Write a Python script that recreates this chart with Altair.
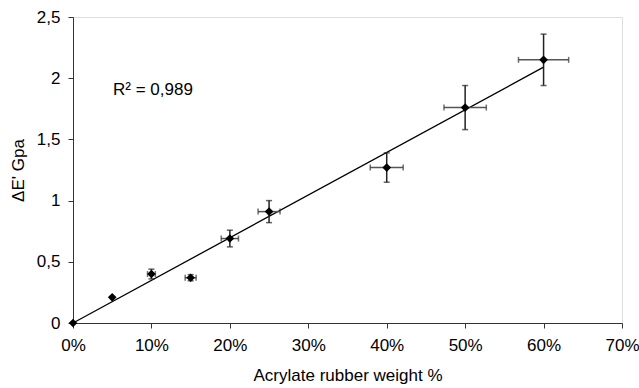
import altair as alt
import pandas as pd

# Data
rubber_pct = [0, 5, 10, 15, 20, 25, 40, 50, 60]
delta_e = [0.0, 0.21, 0.40, 0.37, 0.69, 0.91, 1.27, 1.76, 2.15]
y_err = [0.0, 0.0, 0.04, 0.025, 0.068, 0.09, 0.12, 0.18, 0.21]
x_err = [0.0, 0.0, 0.5, 0.7, 1.1, 1.4, 2.1, 2.7, 3.2]

fit_x = [0, 60]
fit_y = [0.0, 2.09]

r2_text = ["R² = 0,989"]
r2_x = [5.1]
r2_y = [1.9]

df = pd.DataFrame({
    "x": rubber_pct,
    "y": delta_e,
    "ylo": [a - b for a, b in zip(delta_e, y_err)],
    "yhi": [a + b for a, b in zip(delta_e, y_err)],
    "xlo": [a - b for a, b in zip(rubber_pct, x_err)],
    "xhi": [a + b for a, b in zip(rubber_pct, x_err)],
})
err_df = df[df["x"] >= 10]
fit_df = pd.DataFrame({"x": fit_x, "y": fit_y})
txt_df = pd.DataFrame({"x": r2_x, "y": r2_y, "t": r2_text})

FONT = "Liberation Sans"
FS = 17

xscale = alt.Scale(domain=[0, 70], nice=False)
yscale = alt.Scale(domain=[0, 2.5], nice=False)

xaxis = alt.Axis(
    values=[0, 10, 20, 30, 40, 50, 60, 70],
    labelExpr="datum.value + '%'",
    title="Acrylate rubber weight %",
    grid=False, tickSize=5, labelPadding=9, titlePadding=14,
    labelFlush=False, labelOverlap=False,
    labelFontSize=FS, titleFontSize=FS, labelFont=FONT, titleFont=FONT,
    titleFontWeight="normal", labelColor="black", titleColor="black",
    domainColor="#333", tickColor="#333",
)
yaxis = alt.Axis(
    values=[0, 0.5, 1, 1.5, 2, 2.5],
    labelExpr="replace(format(datum.value, ''), '.', ',')",
    title="ΔE' Gpa",
    grid=False, tickSize=5, labelPadding=8, titlePadding=9,
    labelFlush=False, labelOverlap=False,
    labelFontSize=FS, titleFontSize=FS, labelFont=FONT, titleFont=FONT,
    titleFontWeight="normal", labelColor="black", titleColor="black",
    domainColor="#333", tickColor="#333",
)

base = alt.Chart(df)

fit = alt.Chart(fit_df).mark_line(color="black", strokeWidth=1.3).encode(
    x=alt.X("x:Q", scale=xscale, axis=xaxis),
    y=alt.Y("y:Q", scale=yscale, axis=yaxis),
)

ebar_y = alt.Chart(err_df).mark_rule(color="#222", strokeWidth=1.5).encode(
    x="x:Q", y="ylo:Q", y2="yhi:Q"
)
cap_ylo = alt.Chart(err_df).mark_tick(color="#222", orient="horizontal", size=6, thickness=1.5).encode(
    x="x:Q", y="ylo:Q"
)
cap_yhi = alt.Chart(err_df).mark_tick(color="#222", orient="horizontal", size=6, thickness=1.5).encode(
    x="x:Q", y="yhi:Q"
)
ebar_x = alt.Chart(err_df).mark_rule(color="#555", strokeWidth=1.5).encode(
    y="y:Q", x="xlo:Q", x2="xhi:Q"
)
cap_xlo = alt.Chart(err_df).mark_tick(color="#333", orient="vertical", size=6, thickness=1.5).encode(
    x="xlo:Q", y="y:Q"
)
cap_xhi = alt.Chart(err_df).mark_tick(color="#333", orient="vertical", size=6, thickness=1.5).encode(
    x="xhi:Q", y="y:Q"
)

pts = base.mark_point(shape="diamond", filled=True, color="black", size=75, opacity=1).encode(
    x="x:Q", y="y:Q"
)

txt = alt.Chart(txt_df).mark_text(
    align="left", baseline="middle", fontSize=FS, font=FONT, color="black"
).encode(x="x:Q", y="y:Q", text="t:N")

chart = alt.layer(fit, ebar_y, cap_ylo, cap_yhi, ebar_x, cap_xlo, cap_xhi, pts, txt).properties(
    width=549, height=306,
    autosize=alt.AutoSizeParams(type="none"),
    padding={"left": 73, "top": 17, "right": 17, "bottom": 65},
).configure_view(stroke=None).configure(background="white")

chart.save("out.html", embed_options={"renderer": "svg", "actions": False})
